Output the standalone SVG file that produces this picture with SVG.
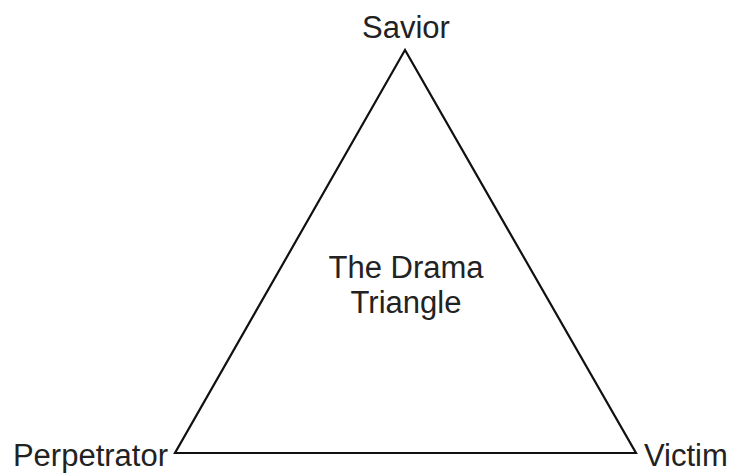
<svg xmlns="http://www.w3.org/2000/svg" width="732" height="475" viewBox="0 0 732 475">
<style>
.lbl{font-family:"Liberation Sans",Arial,sans-serif;font-size:31px;fill:#222;}
.tri{fill:none;stroke:#111;stroke-width:2.2;stroke-linejoin:miter;}
</style>
<rect width="732" height="475" fill="#fff"/>
<g id="connectors">
<polygon class="tri" points="405,50 175,453 636,453"/>
</g>
<g id="savior"><text class="lbl" x="406" y="38" text-anchor="middle">Savior</text></g>
<g id="perpetrator"><text class="lbl" x="168" y="466" text-anchor="end">Perpetrator</text></g>
<g id="victim"><text class="lbl" x="644" y="466">Victim</text></g>
<g id="center"><text class="lbl" x="406" y="278" text-anchor="middle">The Drama</text><text class="lbl" x="406" y="313" text-anchor="middle">Triangle</text></g>
</svg>
